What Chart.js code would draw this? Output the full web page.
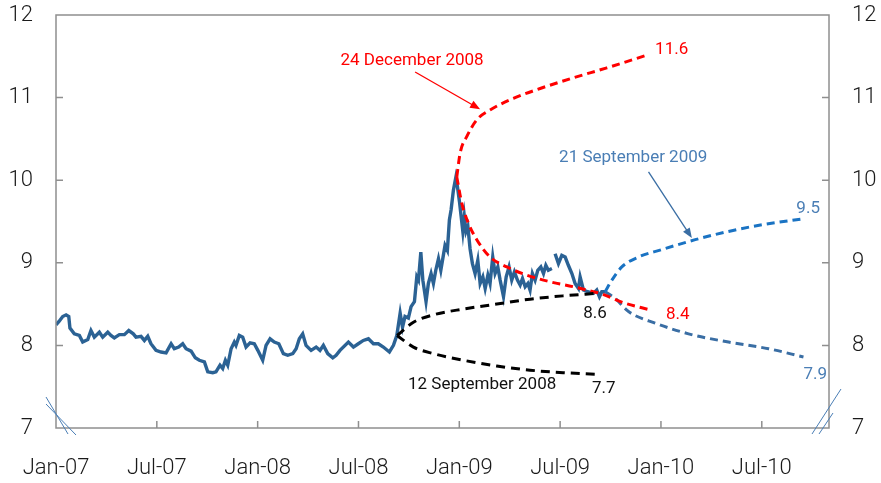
<!DOCTYPE html>
<html>
<head>
<meta charset="utf-8">
<script src="https://cdn.jsdelivr.net/npm/chart.js@4.4.0/dist/chart.umd.min.js"></script>
<style>
  body { margin: 0; background: #fff; }
  #wrap { width: 881px; height: 483px; }
</style>
</head>
<body>
<div id="wrap"><canvas id="chart"></canvas></div>
<script>
// x values are months since Jan 2007
const xTickMonths = [0, 6, 12, 18, 24, 30, 36, 42];
const xTickLabels = ['Jan-07', 'Jul-07', 'Jan-08', 'Jul-08', 'Jan-09', 'Jul-09', 'Jan-10', 'Jul-10'];

// observed rate
const histMonths = [
  0.00, 0.18, 0.40, 0.60, 0.76, 0.83, 1.09, 1.39, 1.59, 1.89, 2.08, 2.28, 2.58, 2.78, 3.08, 3.27,
  3.47, 3.77, 4.07, 4.33, 4.60, 4.76, 5.06, 5.26, 5.46, 5.65, 5.95, 6.25, 6.55, 6.85, 7.04, 7.30,
  7.54, 7.74, 8.04, 8.29, 8.53, 8.83, 9.03, 9.33, 9.52, 9.76, 9.92, 10.08, 10.22, 10.42, 10.61, 10.71,
  10.91, 11.11, 11.31, 11.55, 11.80, 12.01, 12.30, 12.50, 12.74, 12.99, 13.26, 13.53, 13.79, 14.09, 14.29, 14.48,
  14.68, 14.88, 15.18, 15.48, 15.71, 15.91, 16.17, 16.47, 16.67, 16.90, 17.40, 17.70, 17.99, 18.29, 18.59, 18.89,
  19.18, 19.48, 19.84, 20.08,
  20.28, 20.48, 20.62, 20.77, 20.97, 21.13, 21.33, 21.47, 21.57, 21.71, 21.83, 22.02, 22.16, 22.32, 22.46, 22.60,
  22.76, 22.90, 23.05, 23.15, 23.29, 23.41, 23.51, 23.65, 23.79, 23.89, 24.01, 24.11, 24.21, 24.30, 24.40, 24.51,
  24.64, 24.78, 24.94, 25.10, 25.24, 25.40, 25.54, 25.70, 25.83, 25.99, 26.13, 26.29, 26.43, 26.63, 26.79, 26.96,
  27.12, 27.28, 27.46, 27.62, 27.76, 27.92, 28.08, 28.21, 28.35, 28.51, 28.67, 28.85, 29.01, 29.15, 29.30, 29.51,
  29.60, 29.70, 29.90, 30.10, 30.30, 30.49, 30.70, 30.89, 31.09, 31.19, 31.39, 31.64, 31.98, 32.18, 32.34, 32.48,
  32.68
];
const histValues = [
  8.25, 8.29, 8.35, 8.37, 8.35, 8.21, 8.14, 8.12, 8.04, 8.07, 8.18, 8.10, 8.16, 8.10, 8.16, 8.12,
  8.09, 8.13, 8.13, 8.18, 8.14, 8.10, 8.11, 8.06, 8.11, 8.02, 7.94, 7.92, 7.91, 8.02, 7.96, 7.98,
  8.02, 7.96, 7.93, 7.85, 7.82, 7.80, 7.68, 7.67, 7.68, 7.76, 7.72, 7.82, 7.76, 7.96, 8.04, 8.00,
  8.12, 8.10, 7.98, 8.03, 8.02, 7.94, 7.82, 8.00, 8.08, 8.04, 8.02, 7.90, 7.88, 7.90, 7.96, 8.08,
  8.14, 8.00, 7.94, 7.98, 7.94, 8.00, 7.90, 7.85, 7.88, 7.94, 8.04, 7.98, 8.02, 8.06, 8.08, 8.02,
  8.02, 7.98, 7.92, 8.00,
  8.12, 8.39, 8.22, 8.35, 8.33, 8.47, 8.53, 8.83, 8.79, 9.13, 8.79, 8.53, 8.75, 8.87, 8.75, 8.91,
  9.05, 8.91, 9.09, 9.21, 9.15, 9.52, 9.64, 9.88, 10.03, 9.92, 9.74, 9.56, 9.38, 9.56, 9.38, 9.44,
  9.17, 8.99, 8.87, 9.03, 8.75, 8.83, 8.69, 8.85, 8.75, 9.07, 8.87, 8.95, 8.79, 8.59, 8.83, 8.95,
  8.79, 8.89, 8.79, 8.73, 8.81, 8.71, 8.75, 8.67, 8.87, 8.79, 8.91, 8.95, 8.87, 8.97, 8.91, 8.93,
  null, 9.11, 8.99, 9.09, 9.07, 8.97, 8.87, 8.75, 8.69, 8.83, 8.67, 8.65, 8.63, 8.67, 8.59, 8.65,
  8.65
];

// 12 September 2008 forecast range
const sep08Months = [20.30, 21.27, 22.46, 24.24, 26.23, 28.21, 30.20, 32.18];
const sep08Upper = [8.12, 8.28, 8.37, 8.44, 8.50, 8.56, 8.60, 8.63];
const sep08Lower = [8.12, 7.98, 7.90, 7.82, 7.75, 7.70, 7.67, 7.65];

// 24 December 2008 forecast range
const dec08UpperMonths = [23.85, 24.05, 24.45, 25.04, 25.83, 27.22, 28.81, 30.79, 32.78, 35.26];
const dec08Upper = [10.04, 10.33, 10.53, 10.73, 10.85, 10.99, 11.11, 11.24, 11.36, 11.52];
const dec08LowerMonths = [23.85, 24.15, 24.54, 25.04, 25.83, 26.83, 28.02, 29.40, 30.79, 31.98, 32.38, 33.87, 35.36];
const dec08Lower = [10.04, 9.72, 9.48, 9.28, 9.07, 8.95, 8.85, 8.77, 8.71, 8.65, 8.63, 8.51, 8.43];

// 21 September 2009 forecast range
const sep09UpperMonths = [32.68, 33.08, 33.67, 34.66, 36.05, 38.04, 40.02, 42.01, 44.39];
const sep09Upper = [8.65, 8.79, 8.95, 9.07, 9.16, 9.28, 9.38, 9.46, 9.53];
const sep09LowerMonths = [32.68, 33.27, 34.07, 35.65, 37.64, 40.02, 42.40, 44.48];
const sep09Lower = [8.65, 8.57, 8.41, 8.27, 8.14, 8.04, 7.96, 7.86];

function toXY(xs, ys) {
  return xs.map((x, i) => ({ x: x, y: ys[i] }));
}

const RED = '#ff0000';
const HIST = '#2b6294';
const BLUE_UP = '#1a73c3';
const BLUE_DOWN = '#3a6ea4';
const STEEL = '#4a7eb5';
const FONT = 'Roboto, "Liberation Sans", sans-serif';

// text notes and arrows, placed in data units
const notes = [
  { text: '24 December 2008', x: 21.19, y: 11.45, color: RED, align: 'center' },
  { text: '21 September 2009', x: 34.35, y: 10.27, color: STEEL, align: 'center' },
  { text: '12 September 2008', x: 25.36, y: 7.52, color: '#111', align: 'center' },
  { text: '11.6', x: 35.65, y: 11.58, color: RED, align: 'left' },
  { text: '8.4', x: 37.0, y: 8.37, color: RED, align: 'center' },
  { text: '8.6', x: 32.08, y: 8.38, color: '#111', align: 'center' },
  { text: '7.7', x: 32.6, y: 7.47, color: '#111', align: 'center' },
  { text: '9.5', x: 44.76, y: 9.65, color: STEEL, align: 'center' },
  { text: '7.9', x: 45.18, y: 7.64, color: STEEL, align: 'center' }
];
const arrows = [
  { x0: 21.37, y0: 11.31, x1: 25.24, y1: 10.86, color: RED },
  { x0: 35.26, y0: 10.10, x1: 37.84, y1: 9.30, color: BLUE_DOWN }
];

const decorPlugin = {
  id: 'decor',
  afterDraw(chart) {
    const { ctx, chartArea: a, scales: { x, y } } = chart;
    ctx.save();
    // frame
    ctx.strokeStyle = '#8f8f8f';
    ctx.lineWidth = 1.5;
    ctx.strokeRect(a.left, a.top, a.right - a.left, a.bottom - a.top);
    // inward tick marks
    ctx.beginPath();
    y.ticks.forEach(t => {
      if (t.value <= 7 || t.value >= 12) return;
      const py = y.getPixelForValue(t.value);
      ctx.moveTo(a.left, py); ctx.lineTo(a.left + 7, py);
      ctx.moveTo(a.right, py); ctx.lineTo(a.right - 7, py);
    });
    x.ticks.forEach(t => {
      if (t.value <= 0) return;
      const px = x.getPixelForValue(t.value);
      ctx.moveTo(px, a.bottom); ctx.lineTo(px, a.bottom - 7);
    });
    ctx.stroke();

    // axis break marks
    ctx.strokeStyle = STEEL;
    ctx.lineWidth = 1;
    ctx.beginPath();
    ctx.moveTo(a.left - 10, a.bottom - 31); ctx.lineTo(a.left + 12, a.bottom + 6);
    ctx.moveTo(a.left - 10, a.bottom - 24); ctx.lineTo(a.left + 20, a.bottom + 7);
    ctx.moveTo(a.right + 12, a.bottom - 39); ctx.lineTo(a.right - 17, a.bottom + 6);
    ctx.moveTo(a.right + 4, a.bottom - 15); ctx.lineTo(a.right - 10, a.bottom + 6);
    ctx.stroke();

    // arrows
    arrows.forEach(ar => {
      const x0 = x.getPixelForValue(ar.x0), y0 = y.getPixelForValue(ar.y0);
      const x1 = x.getPixelForValue(ar.x1), y1 = y.getPixelForValue(ar.y1);
      const ang = Math.atan2(y1 - y0, x1 - x0);
      ctx.strokeStyle = ar.color;
      ctx.fillStyle = ar.color;
      ctx.lineWidth = 1.3;
      ctx.beginPath();
      ctx.moveTo(x0, y0);
      ctx.lineTo(x1 - 8 * Math.cos(ang), y1 - 8 * Math.sin(ang));
      ctx.stroke();
      ctx.beginPath();
      ctx.moveTo(x1, y1);
      ctx.lineTo(x1 - 10 * Math.cos(ang) + 4 * Math.sin(ang), y1 - 10 * Math.sin(ang) - 4 * Math.cos(ang));
      ctx.lineTo(x1 - 10 * Math.cos(ang) - 4 * Math.sin(ang), y1 - 10 * Math.sin(ang) + 4 * Math.cos(ang));
      ctx.closePath();
      ctx.fill();
    });

    // notes
    ctx.font = '17px ' + FONT;
    ctx.textBaseline = 'middle';
    notes.forEach(n => {
      ctx.fillStyle = n.color;
      ctx.textAlign = n.align;
      ctx.fillText(n.text, x.getPixelForValue(n.x), y.getPixelForValue(n.y));
    });
    ctx.restore();
  }
};

function fanLine(data, color, dash) {
  return {
    data: data,
    borderColor: color,
    borderWidth: 3,
    borderDash: dash,
    pointRadius: 0,
    tension: 0.4,
    cubicInterpolationMode: 'monotone',
    order: 1
  };
}

// keep the label padding from pushing the plot box around
function noEdgePadding(s) {
  s.paddingTop = 0;
  s.paddingBottom = 0;
  s.paddingLeft = 0;
  s.paddingRight = 0;
}

const tickFont = { family: FONT, size: 22, weight: 300 };
const noGrid = { display: false, drawTicks: false };

new Chart(document.getElementById('chart'), {
  type: 'line',
  data: {
    datasets: [
      {
        data: toXY(histMonths, histValues),
        borderColor: HIST,
        borderWidth: 3.4,
        pointRadius: 0,
        tension: 0,
        spanGaps: false,
        order: 5
      },
      fanLine(toXY(sep08Months, sep08Upper), '#000', [9, 6]),
      fanLine(toXY(sep08Months, sep08Lower), '#000', [9, 6]),
      fanLine(toXY(dec08UpperMonths, dec08Upper), RED, [8, 5]),
      fanLine(toXY(dec08LowerMonths, dec08Lower), RED, [8, 5]),
      fanLine(toXY(sep09UpperMonths, sep09Upper), BLUE_UP, [8, 5]),
      fanLine(toXY(sep09LowerMonths, sep09Lower), BLUE_DOWN, [8, 5])
    ]
  },
  options: {
    responsive: true,
    maintainAspectRatio: false,
    animation: false,
    layout: { padding: { top: 15, left: 0, right: 0, bottom: 0 } },
    plugins: { legend: { display: false }, tooltip: { enabled: false } },
    scales: {
      x: {
        type: 'linear',
        min: 0,
        max: 46,
        grid: noGrid,
        border: { display: false },
        afterBuildTicks: s => { s.ticks = xTickMonths.map(v => ({ value: v })); },
        afterFit: s => { s.height = 55; noEdgePadding(s); },
        ticks: {
          padding: 27,
          maxRotation: 0,
          color: '#1a1a1a',
          font: tickFont,
          callback: v => xTickLabels[xTickMonths.indexOf(v)] || ''
        }
      },
      y: {
        position: 'left',
        min: 7,
        max: 12,
        grid: noGrid,
        border: { display: false },
        afterFit: s => { s.width = 56; noEdgePadding(s); },
        ticks: { stepSize: 1, padding: 23, color: '#1a1a1a', font: tickFont }
      },
      y2: {
        position: 'right',
        min: 7,
        max: 12,
        grid: noGrid,
        border: { display: false },
        afterFit: s => { s.width = 52; noEdgePadding(s); },
        ticks: { stepSize: 1, padding: 23, color: '#1a1a1a', font: tickFont }
      }
    }
  },
  plugins: [decorPlugin]
});
</script>
</body>
</html>
